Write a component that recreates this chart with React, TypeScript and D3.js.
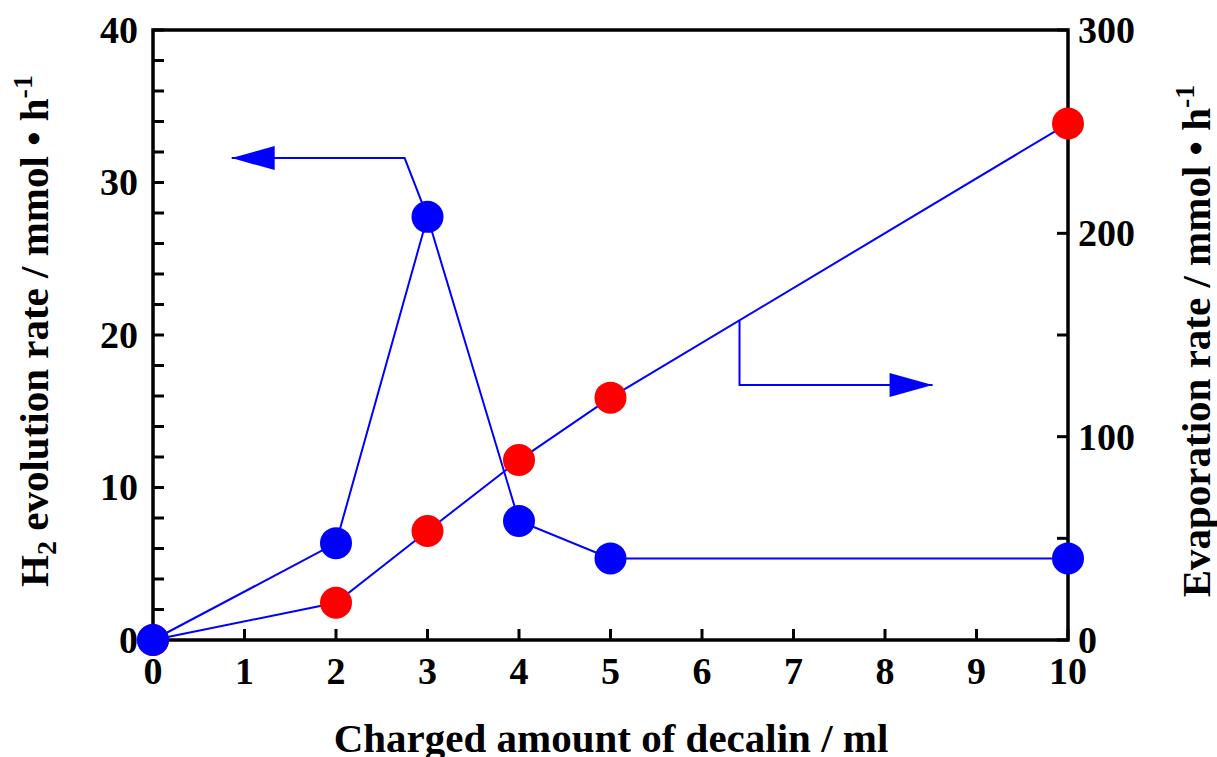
import React from "react";
import { scaleLinear, line, range } from "d3";

// charged decalin (ml)
const chargedAmount = [0, 2, 3, 4, 5, 10];
// H2 evolution rate, left axis (mmol/h)
const h2Rate = [0, 6.35, 27.75, 7.8, 5.35, 5.35];
// evaporation rate, right axis (mmol/h)
const evapRate = [0, 18.3, 53.6, 88.5, 119.2, 254];

const xTicks = [0, 1, 2, 3, 4, 5, 6, 7, 8, 9, 10];
const leftTickLabels = [0, 10, 20, 30, 40];
const rightTickLabels = [0, 100, 200, 300];

// annotation arrows (data coords): [x, y] on the axis they point to
const leftArrow = [[3, 27.75], [2.75, 31.6], [0.86, 31.6]];
const rightArrow = [[6.41, 157], [6.41, 125.4], [8.52, 125.4]];

const W = 1217;
const H = 757;
const FONT = "'Liberation Serif', 'Times New Roman', serif";
const BLUE = "#0000ff";
const RED = "#ff0000";

export default function App() {
  const x = scaleLinear().domain([0, 10]).range([153, 1068]);
  const yL = scaleLinear().domain([0, 40]).range([640, 30]);
  const yR = scaleLinear().domain([0, 300]).range([640, 30]);

  const lineL = line<number>()
    .x((d, i) => x(chargedAmount[i]))
    .y((d) => yL(d));
  const lineR = line<number>()
    .x((d, i) => x(chargedAmount[i]))
    .y((d) => yR(d));

  const arrowL = leftArrow.map(([a, b]) => [x(a), yL(b)]);
  const arrowR = rightArrow.map(([a, b]) => [x(a), yR(b)]);
  const tipL = arrowL[arrowL.length - 1];
  const tipR = arrowR[arrowR.length - 1];

  const tickLen = 11;
  const [x0, x1] = x.range();
  const [yb, yt] = yL.range();

  return (
    <svg
      width={W}
      height={H}
      style={{ position: "absolute", left: 0, top: 0, background: "#fff" }}
      fontFamily={FONT}
      fontWeight="bold"
    >
      {/* minor/major ticks, inward */}
      {xTicks.map((t) => (
        <line key={"xt" + t} x1={x(t)} x2={x(t)} y1={yb} y2={yb - tickLen} stroke="#000" strokeWidth={3} />
      ))}
      {range(0, 41, 2).map((t) => (
        <line key={"yl" + t} x1={x0} x2={x0 + tickLen} y1={yL(t)} y2={yL(t)} stroke="#000" strokeWidth={3} />
      ))}
      {range(0, 301, 50).map((t) => (
        <line key={"yr" + t} x1={x1} x2={x1 - tickLen} y1={yR(t)} y2={yR(t)} stroke="#000" strokeWidth={3} />
      ))}

      {/* frame */}
      <rect x={x0} y={yt} width={x1 - x0} height={yb - yt} fill="none" stroke="#000" strokeWidth={3.5} />

      {/* tick labels */}
      {xTicks.map((t) => (
        <text key={"xl" + t} x={x(t)} y={684} textAnchor="middle" fontSize={38}>
          {t}
        </text>
      ))}
      {leftTickLabels.map((t) => (
        <text key={"ll" + t} x={138} y={yL(t)} dy="0.34em" textAnchor="end" fontSize={38}>
          {t}
        </text>
      ))}
      {rightTickLabels.map((t) => (
        <text key={"rl" + t} x={1078} y={yR(t)} dy="0.34em" textAnchor="start" fontSize={38}>
          {t}
        </text>
      ))}

      {/* annotation arrows */}
      <polyline points={arrowL.map((p) => p.join(",")).join(" ")} fill="none" stroke={BLUE} strokeWidth={2} />
      <polygon
        points={`${tipL[0]},${tipL[1]} ${tipL[0] + 43},${tipL[1] - 12} ${tipL[0] + 43},${tipL[1] + 12}`}
        fill={BLUE}
      />
      <polyline points={arrowR.map((p) => p.join(",")).join(" ")} fill="none" stroke={BLUE} strokeWidth={2} />
      <polygon
        points={`${tipR[0]},${tipR[1]} ${tipR[0] - 43},${tipR[1] - 12} ${tipR[0] - 43},${tipR[1] + 12}`}
        fill={BLUE}
      />

      {/* series lines */}
      <path d={lineR(evapRate) || ""} fill="none" stroke={BLUE} strokeWidth={2} />
      <path d={lineL(h2Rate) || ""} fill="none" stroke={BLUE} strokeWidth={2} />

      {/* markers */}
      {evapRate.map((v, i) => (
        <circle key={"r" + i} cx={x(chargedAmount[i])} cy={yR(v)} r={16} fill={RED} />
      ))}
      {h2Rate.map((v, i) => (
        <circle key={"b" + i} cx={x(chargedAmount[i])} cy={yL(v)} r={16} fill={BLUE} />
      ))}

      {/* axis titles */}
      <text x={611} y={752} textAnchor="middle" fontSize={41}>
        Charged amount of decalin / ml
      </text>
      <text transform="translate(48,331) rotate(-90)" textAnchor="middle" fontSize={41}>
        H<tspan fontSize={28} dy={8}>2</tspan>
        <tspan dy={-8}> evolution rate / mmol • h</tspan>
        <tspan fontSize={28} dy={-16}>-1</tspan>
      </text>
      <text transform="translate(1210,341) rotate(-90)" textAnchor="middle" fontSize={41}>
        Evaporation rate / mmol • h<tspan fontSize={28} dy={-16}>-1</tspan>
      </text>
    </svg>
  );
}
